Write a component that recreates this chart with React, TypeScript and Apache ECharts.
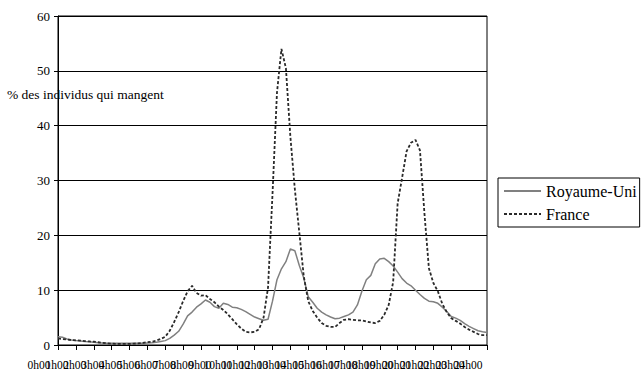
import React, { useEffect, useRef } from "react";
import * as echarts from "echarts";

const hours: number[] = [
  0, 0.25, 0.5, 0.75, 1, 1.25, 1.5, 1.75, 2, 2.25, 2.5, 2.75, 3, 3.25, 3.5, 3.75,
  4, 4.25, 4.5, 4.75, 5, 5.25, 5.5, 5.75, 6, 6.25, 6.5, 6.75, 7, 7.25, 7.5, 7.75,
  8, 8.25, 8.5, 8.75, 9, 9.25, 9.5, 9.75, 10, 10.25, 10.5, 10.75, 11, 11.25, 11.5, 11.75,
  12, 12.25, 12.5, 12.75, 13, 13.25, 13.5, 13.75, 14, 14.25, 14.5, 14.75, 15, 15.25, 15.5, 15.75,
  16, 16.25, 16.5, 16.75, 17, 17.25, 17.5, 17.75, 18, 18.25, 18.5, 18.75, 19, 19.25, 19.5, 19.75,
  20, 20.25, 20.5, 20.75, 21, 21.25, 21.5, 21.75, 22, 22.25, 22.5, 22.75, 23, 23.25, 23.5, 23.75, 24,
];

const royaumeUni: number[] = [
  1.5, 1.4, 1.1, 0.9, 0.8, 0.75, 0.65, 0.6, 0.5, 0.4, 0.35, 0.3, 0.3, 0.3, 0.3, 0.3,
  0.3, 0.3, 0.3, 0.3, 0.35, 0.4, 0.5, 0.65, 0.8, 1.2, 1.8, 2.5, 3.8, 5.3, 6.0, 6.9,
  7.5, 8.2, 7.8, 7.0, 6.7, 7.6, 7.4, 6.9, 6.8, 6.5, 6.1, 5.6, 5.1, 4.8, 4.5, 4.7,
  8.0, 11.9, 13.9, 15.2, 17.5, 17.2, 14.5, 12.2, 8.8, 7.8, 6.7, 6.0, 5.5, 5.1, 4.8, 4.9,
  5.2, 5.5, 6.0, 7.3, 9.8, 11.9, 12.7, 14.8, 15.7, 15.8, 15.2, 14.4, 13.3, 12.1, 11.3, 10.8,
  10.0, 9.2, 8.5, 8.0, 7.9, 7.6, 6.9, 6.1, 5.2, 4.9, 4.5, 3.9, 3.4, 3.0, 2.6, 2.4, 2.3,
];

const france: number[] = [
  1.2, 1.1, 1.0, 0.9, 0.85, 0.8, 0.7, 0.65, 0.6, 0.5, 0.4, 0.3, 0.25, 0.2, 0.2, 0.2,
  0.2, 0.25, 0.3, 0.4, 0.5, 0.6, 0.8, 1.1, 1.5, 2.6, 4.2, 6.0, 8.0, 9.8, 10.8, 9.5,
  9.0, 9.1, 8.4, 7.8, 7.0, 6.4, 5.6, 4.7, 3.8, 3.0, 2.4, 2.3, 2.4, 2.9, 5.0, 10.5,
  27.5, 46.0, 54.0, 50.5, 38.0, 28.4, 20.5, 12.5, 8.0, 6.2, 5.0, 4.0, 3.5, 3.3, 3.3, 4.0,
  4.6, 4.7, 4.6, 4.5, 4.5, 4.3, 4.1, 4.0, 4.4, 5.5, 7.3, 11.5, 25.8, 30.5, 35.3, 36.9,
  37.4, 35.5, 24.0, 14.0, 11.3, 9.8, 7.5, 6.0, 4.9, 4.4, 3.9, 3.3, 2.8, 2.4, 2.0, 1.8, 1.8,
];

const hourLabels: string[] = [
  "0h00", "1h00", "2h00", "3h00", "4h00", "5h00", "6h00", "7h00", "8h00", "9h00",
  "10h00", "11h00", "12h00", "13h00", "14h00", "15h00", "16h00", "17h00", "18h00",
  "19h00", "20h00", "21h00", "22h00", "23h00", "24h00",
];

const seriesNames = ["Royaume-Uni", "France"];
const yAxisTitle = "% des individus qui mangent";

const FONT = "Liberation Serif";

export default function App() {
  const ref = useRef<HTMLDivElement>(null);

  useEffect(() => {
    if (!ref.current) return;
    const chart = echarts.init(ref.current, null, { renderer: "svg" });
    chart.setOption({
      animation: false,
      backgroundColor: "#ffffff",
      title: {
        text: yAxisTitle,
        left: 7,
        top: 87,
        padding: 0,
        textStyle: { fontFamily: FONT, fontSize: 13.5, fontWeight: "normal", color: "#000" },
      },
      legend: {
        orient: "vertical",
        left: 498,
        top: 178,
        padding: [5, 3, 5, 5],
        itemWidth: 37,
        itemHeight: 14,
        itemGap: 7,
        borderColor: "#000",
        borderWidth: 1,
        itemStyle: { color: "transparent", borderColor: "transparent", borderWidth: 0, opacity: 0 },
        textStyle: { fontFamily: FONT, fontSize: 16, color: "#000" },
        data: seriesNames,
      },
      grid: {
        left: 58,
        right: 157,
        top: 16,
        bottom: 39,
        show: true,
        borderColor: "#000",
        borderWidth: 1,
        backgroundColor: "transparent",
      },
      xAxis: [
        {
          type: "value",
          min: 0,
          max: 24,
          interval: 1,
          show: false,
        },
        {
          type: "category",
          data: hourLabels,
          boundaryGap: false,
          position: "bottom",
          axisLine: { show: true, onZero: false, lineStyle: { color: "#000", width: 1 } },
          axisTick: { show: true, inside: false, length: 5, interval: 0, lineStyle: { color: "#000" } },
          splitLine: { show: false },
          axisLabel: {
            show: true,
            interval: 0,
            margin: 14,
            fontFamily: FONT,
            fontSize: 11.5,
            color: "#000",
            align: "center",
            padding: [0, 38, 0, 0],
          },
        },
      ],
      yAxis: {
        type: "value",
        min: 0,
        max: 60,
        interval: 10,
        axisLine: { show: true, lineStyle: { color: "#000", width: 1 } },
        axisTick: { show: true, inside: false, length: 4, lineStyle: { color: "#000" } },
        splitLine: { show: true, lineStyle: { color: "#000", width: 1 } },
        axisLabel: { margin: 8, fontFamily: FONT, fontSize: 13, color: "#000" },
      },
      series: [
        {
          name: seriesNames[0],
          type: "line",
          xAxisIndex: 0,
          symbol: "none",
          data: hours.map((h, i) => [h, royaumeUni[i]]),
          lineStyle: { color: "#808080", width: 1.5, type: "solid" },
          itemStyle: { color: "#808080" },
        },
        {
          name: seriesNames[1],
          type: "line",
          xAxisIndex: 0,
          symbol: "none",
          data: hours.map((h, i) => [h, france[i]]),
          lineStyle: { color: "#2a2a2a", width: 1.8, type: [3, 2] },
          itemStyle: { color: "#2a2a2a" },
        },
      ],
    });
    return () => chart.dispose();
  }, []);

  return <div ref={ref} style={{ width: 644, height: 384, position: "absolute", left: 0, top: 0 }} />;
}
